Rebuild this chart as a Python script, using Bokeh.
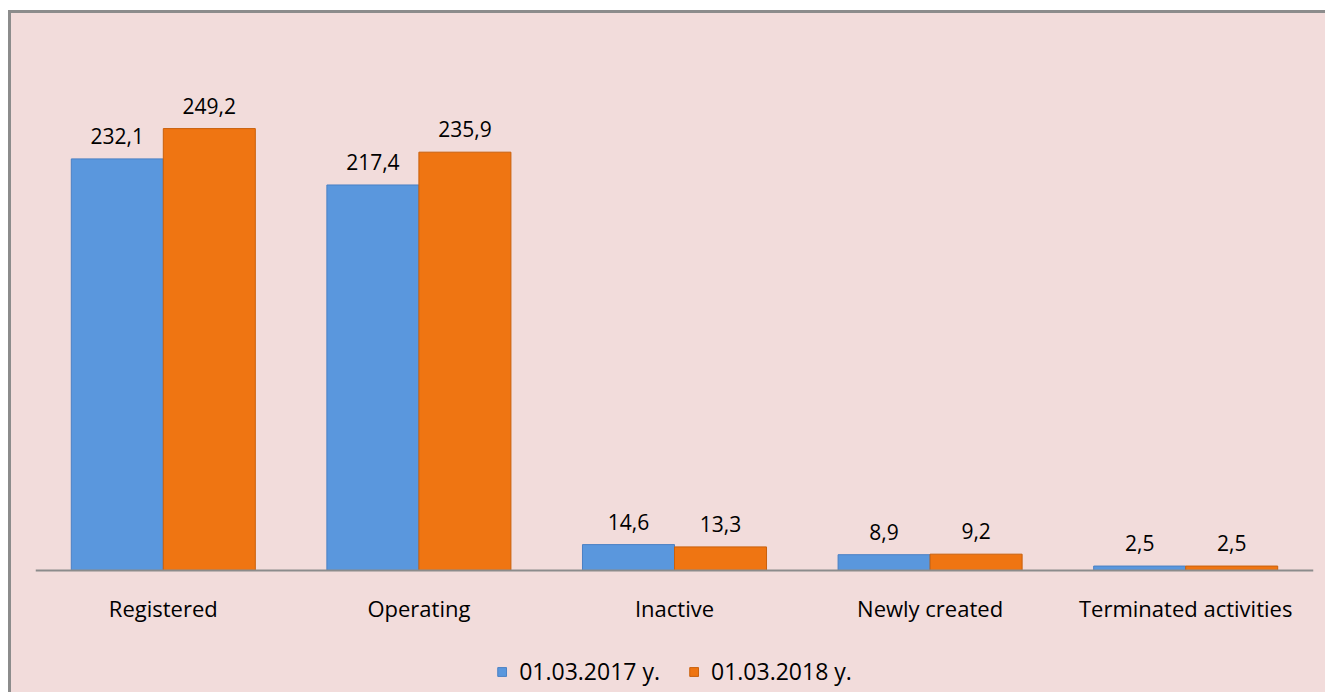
from bokeh.plotting import figure
from bokeh.models import ColumnDataSource, LabelSet, Legend, LegendItem, FactorRange, Span
from bokeh.transform import dodge
from bokeh.core.properties import value
from bokeh.embed import file_html
from bokeh.resources import INLINE

categories = ["Registered", "Operating", "Inactive", "Newly created", "Terminated activities"]
values_2017 = [232.1, 217.4, 14.6, 8.9, 2.5]
values_2018 = [249.2, 235.9, 13.3, 9.2, 2.5]
series_names = ["01.03.2017 y.", "01.03.2018 y."]

def fmt(v):
    return f"{v:.1f}".replace(".", ",")

src = ColumnDataSource(dict(
    cat=categories,
    zero=[0] * len(categories),
    v17=values_2017,
    v18=values_2018,
    l17=[fmt(v) for v in values_2017],
    l18=[fmt(v) for v in values_2018],
))

BG = "#F2DCDB"
BLUE = "#5A97DD"
ORANGE = "#EF7512"
FONT = "Open Sans"

# y range: 0..300 is the value area; the negative part holds category labels and legend
p = figure(x_range=FactorRange(*categories, range_padding=0), y_range=(-70.5, 300),
           width=1317, height=682, output_backend="svg", toolbar_location=None,
           min_border_left=24, min_border_right=15, min_border_top=25, min_border_bottom=0)
p.background_fill_color = None
p.border_fill_color = None
p.outline_line_color = None
p.grid.visible = False
p.xaxis.visible = False
p.yaxis.visible = False
p.styles = {"border-left": "3px solid #8C8C8C", "border-top": "3px solid #8C8C8C",
            "margin-left": "8px", "margin-top": "10px", "background-color": BG}

w = 0.36
b1 = p.vbar(x=dodge("cat", -w / 2, range=p.x_range), top="v17", bottom="zero", width=w,
            source=src, fill_color=BLUE, line_color="#4A80C4", line_width=1)
b2 = p.vbar(x=dodge("cat", w / 2, range=p.x_range), top="v18", bottom="zero", width=w,
            source=src, fill_color=ORANGE, line_color="#C9600C", line_width=1)

# baseline (category axis line)
p.add_layout(Span(location=0, dimension="width", line_color="#8C8C8C", line_width=2))

for col, lab, off in (("v17", "l17", -w / 2), ("v18", "l18", w / 2)):
    p.add_layout(LabelSet(x=dodge("cat", off, range=p.x_range), y=col, text=lab, source=src,
                          y_offset=15, text_align="center", text_baseline="alphabetic",
                          text_font=value(FONT), text_font_size="21px", text_color="#000000"))

# category labels
p.add_layout(LabelSet(x="cat", y="zero", text="cat", source=src, y_offset=-47,
                      text_align="center", text_baseline="alphabetic",
                      text_font=value(FONT), text_font_size="22px", text_color="#000000"))

legend = Legend(items=[LegendItem(label=series_names[0], renderers=[b1]),
                       LegendItem(label=series_names[1], renderers=[b2])],
                orientation="horizontal", location="bottom_center",
                background_fill_alpha=0, border_line_color=None,
                label_text_font=FONT, label_text_font_size="23px", label_text_color="#000000",
                glyph_width=11, glyph_height=11, spacing=28, label_standoff=12,
                padding=4, margin=8)
p.add_layout(legend, "center")

open("out.html", "w").write(file_html(p, INLINE))
